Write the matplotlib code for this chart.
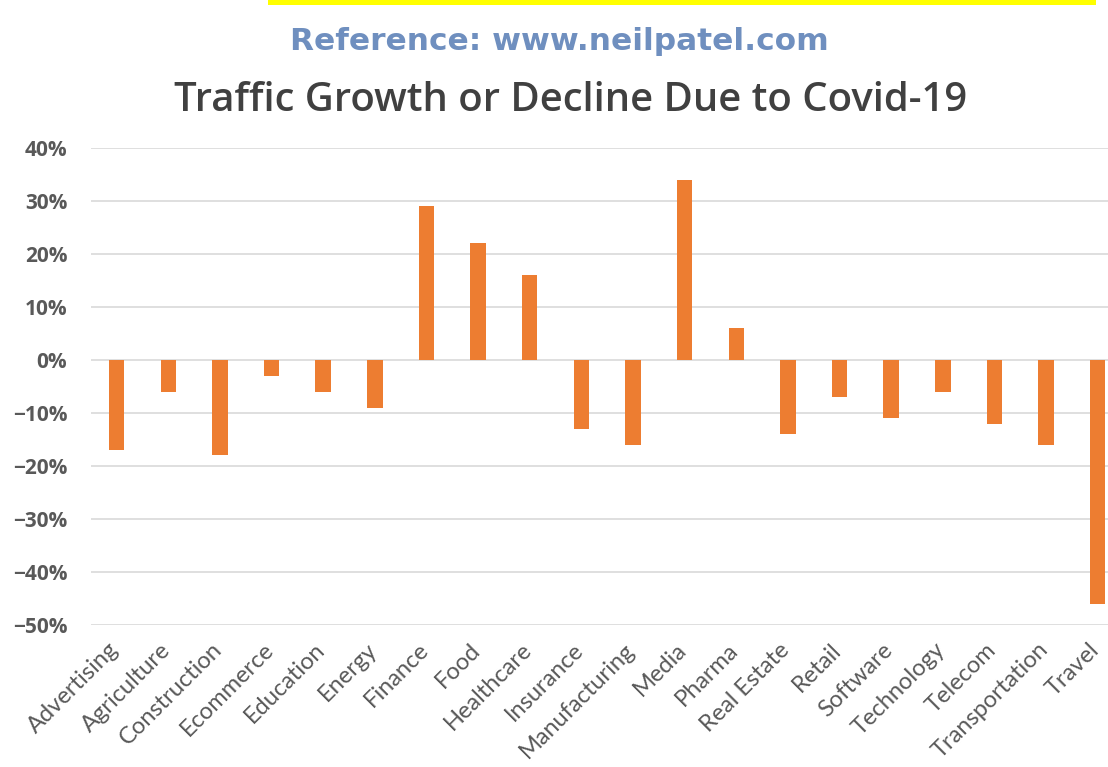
import matplotlib.pyplot as plt
from matplotlib.patches import Rectangle
from matplotlib.ticker import PercentFormatter
from matplotlib.transforms import ScaledTranslation

# Traffic change per industry, in percent
industries = ['Advertising', 'Agriculture', 'Construction', 'Ecommerce', 'Education',
              'Energy', 'Finance', 'Food', 'Healthcare', 'Insurance', 'Manufacturing',
              'Media', 'Pharma', 'Real Estate', 'Retail', 'Software', 'Technology',
              'Telecom', 'Transportation', 'Travel']
change = [-17, -6, -18, -3, -6, -9, 29, 22, 16, -13, -16,
          34, 6, -14, -7, -11, -6, -12, -16, -46]
y_ticks = [40, 30, 20, 10, 0, -10, -20, -30, -40, -50]

fig = plt.figure(figsize=(11.08, 7.67), dpi=100)
fig.patch.set_facecolor('white')

# yellow strip along the top edge
fig.add_artist(Rectangle((0.242, 0.993), 0.747, 0.007, transform=fig.transFigure,
                         facecolor='#ffff00', edgecolor='none'))

fig.text(0.5045, 0.946, 'Reference: www.neilpatel.com', ha='center', va='center',
         fontsize=22.5, fontweight='bold', color='#6f8fbf', family='DejaVu Sans')
fig.text(0.515, 0.868, 'Traffic Growth or Decline Due to Covid-19', ha='center',
         va='center', fontsize=28.8, color='#404040', family='Open Sans',
         fontweight='semibold')

ax = fig.add_axes([0.082, 0.185, 0.932, 0.622])
x = list(range(len(industries)))
ax.bar(x, change, width=0.3, color='#ed7d31', zorder=3)

ax.set_xlim(-0.5, len(industries) - 0.5)
ax.set_ylim(-50, 40)
ax.set_yticks(y_ticks)
ax.yaxis.set_major_formatter(PercentFormatter(decimals=0))
ax.set_xticks(x)
ax.set_xticklabels(industries, rotation=45, ha='right', rotation_mode='anchor')

ax.grid(axis='y', color='#d9d9d9', linewidth=1.2, zorder=0)
for side in ax.spines.values():
    side.set_visible(False)
ax.tick_params(axis='both', length=0)
ax.tick_params(axis='y', pad=17, labelsize=15, labelcolor='#595959')
ax.tick_params(axis='x', pad=10, labelsize=17, labelcolor='#595959')
for lbl in ax.get_yticklabels():
    lbl.set_fontweight('bold')
    lbl.set_family('Open Sans')
# nudge the slanted category labels left so they end under their bars
shift = ScaledTranslation(-9 / 100, 0, fig.dpi_scale_trans)
for lbl in ax.get_xticklabels():
    lbl.set_family('Lato')
    lbl.set_transform(lbl.get_transform() + shift)

fig.savefig('out.png', dpi=100)
